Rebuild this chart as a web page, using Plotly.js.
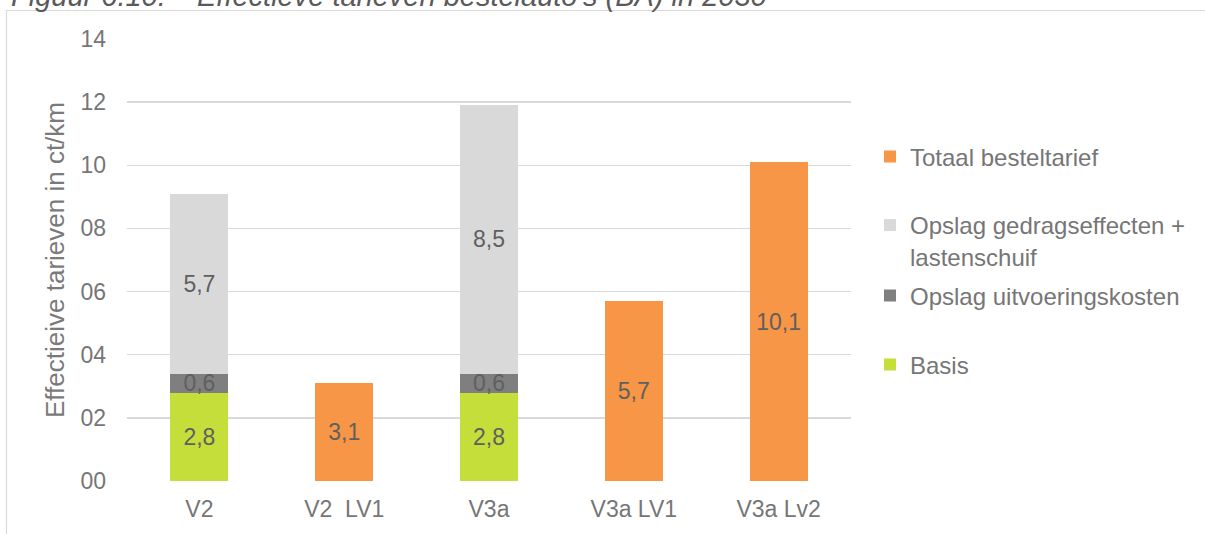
<!DOCTYPE html>
<html>
<head>
<meta charset="utf-8">
<script src="https://cdn.plot.ly/plotly-3.0.1.min.js"></script>
<style>
  html, body { margin: 0; padding: 0; background: #ffffff; }
  #chart { width: 1205px; height: 534px; }
</style>
</head>
<body>
<div id="chart"></div>
<script>
// ---- data ----
const categories = ['V2', 'V2  LV1', 'V3a', 'V3a LV1', 'V3a Lv2'];
const basis      = [2.8, null, 2.8, null, null];
const uitvoering = [0.6, null, 0.6, null, null];
const gedrag     = [5.7, null, 8.5, null, null];
const totaal     = [null, 3.1, null, 5.7, 10.1];
const yTickVals  = [0, 2, 4, 6, 8, 10, 12, 14];
const yTickText  = ['00', '02', '04', '06', '08', '10', '12', '14'];
const seriesNames = {
  basis: 'Basis',
  uitvoering: 'Opslag uitvoeringskosten',
  gedrag: 'Opslag gedragseffecten +<br>lastenschuif',
  totaal: 'Totaal besteltarief'
};
const figTitleNum = 'Figuur 6.10:';
const figTitleText = "Effectieve tarieven bestelauto's (BA) in 2030";
const yTitle = 'Effectieive tarieven in ct/km';

// ---- styling ----
const FONT = 'Liberation Sans, Arial, sans-serif';
const labelFont = { family: FONT, size: 23, color: '#5f5f5f' };

function barTrace(y, name, color, legendId) {
  return {
    type: 'bar',
    x: categories,
    y: y,
    name: name,
    legend: legendId,
    marker: { color: color, line: { width: 0 } },
    texttemplate: '%{y:.1f}',
    textposition: 'inside',
    insidetextanchor: 'middle',
    textangle: 0,
    textfont: labelFont,
    hoverinfo: 'x+y+name'
  };
}

const data = [
  barTrace(basis, seriesNames.basis, '#c5de3a', 'legend4'),
  barTrace(uitvoering, seriesNames.uitvoering, '#7f7f7f', 'legend3'),
  barTrace(gedrag, seriesNames.gedrag, '#d9d9d9', 'legend2'),
  barTrace(totaal, seriesNames.totaal, '#f79646', 'legend')
];

const L = 127, R = 354, T = 39, B = 53;
const plotH = 534 - T - B, plotW = 1205 - L - R;
const px = v => (v - L) / plotW;
const py = v => (534 - B - v) / plotH;

function legendAt(yPix) {
  return {
    x: px(870), xanchor: 'left',
    y: py(yPix), yanchor: 'middle',
    bgcolor: 'rgba(0,0,0,0)',
    borderwidth: 0,
    valign: 'top',
    font: { family: FONT, size: 24, color: '#767676' }
  };
}

const layout = {
  width: 1205,
  height: 534,
  margin: { l: L, r: R, t: T, b: B, pad: 0 },
  paper_bgcolor: '#ffffff',
  plot_bgcolor: '#ffffff',
  separators: ',.',
  barmode: 'stack',
  bargap: 0.6,
  uniformtext: { mode: 'show', minsize: 23 },
  font: { family: FONT, color: '#767676' },
  xaxis: {
    type: 'category',
    showgrid: false,
    showline: false,
    zeroline: false,
    ticks: '',
    ticklabelstandoff: 12,
    tickfont: { family: FONT, size: 23, color: '#767676' },
    fixedrange: true
  },
  yaxis: {
    range: [0, 14],
    tickvals: yTickVals,
    ticktext: yTickText,
    showgrid: true,
    gridcolor: '#d9d9d9',
    gridwidth: 1.3,
    zeroline: false,
    showline: false,
    ticks: '',
    ticklabelstandoff: 20,
    tickfont: { family: FONT, size: 23, color: '#767676' },
    title: { text: yTitle, font: { family: FONT, size: 26, color: '#7a7a7a' }, standoff: 8 },
    fixedrange: true
  },
  showlegend: true,
  legend: legendAt(157),
  legend2: legendAt(241),
  legend3: legendAt(296),
  legend4: legendAt(365),
  shapes: [{
    type: 'rect', xref: 'paper', yref: 'paper',
    x0: px(6.5), x1: 1.6, y0: -0.5, y1: py(10.5),
    line: { color: '#d9d9d9', width: 1.2 },
    fillcolor: 'rgba(0,0,0,0)',
    layer: 'below'
  }],
  annotations: [
    {
      xref: 'paper', yref: 'paper', x: px(9), y: py(14), xanchor: 'left', yanchor: 'bottom',
      text: '<i>' + figTitleNum + '</i>', showarrow: false,
      font: { family: FONT, size: 29, color: '#5a5a5a' }
    },
    {
      xref: 'paper', yref: 'paper', x: px(195), y: py(14), xanchor: 'left', yanchor: 'bottom',
      text: '<i>' + figTitleText + '</i>', showarrow: false,
      font: { family: FONT, size: 29, color: '#5a5a5a' }
    }
  ]
};

Plotly.newPlot('chart', data, layout, { displayModeBar: false, staticPlot: true });
</script>
</body>
</html>
